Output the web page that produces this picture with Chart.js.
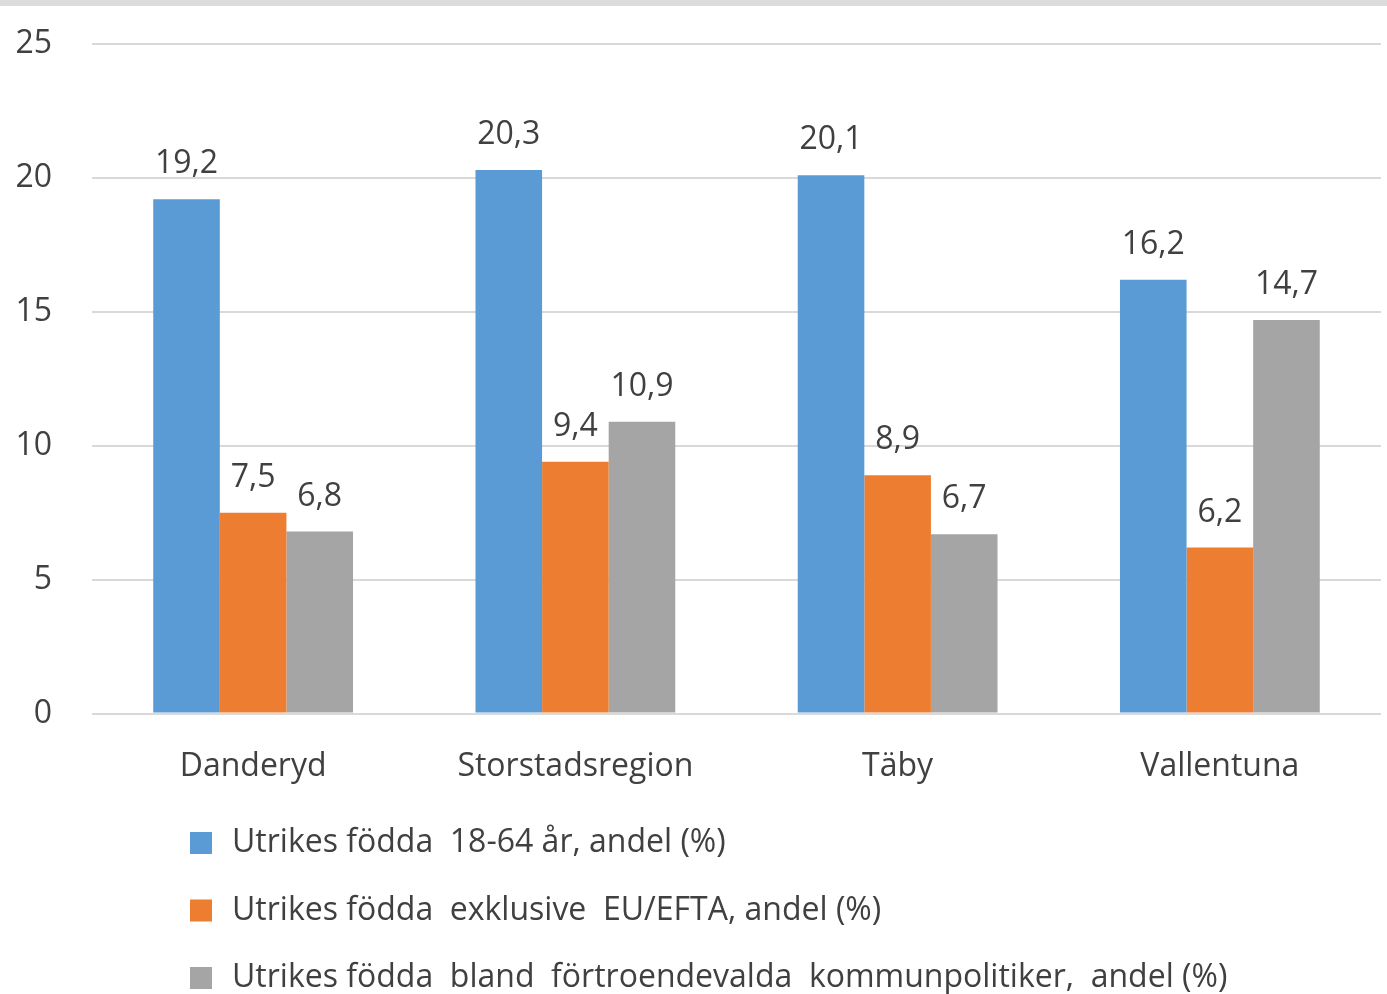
<!DOCTYPE html>
<html lang="sv">
<head>
<meta charset="utf-8">
<title>Utrikes födda</title>
<script src="https://cdn.jsdelivr.net/npm/chart.js@4/dist/chart.umd.min.js"></script>
<style>
  html, body { margin: 0; padding: 0; background: #fff; }
  .topplist { height: 6px; background: #dcdcdc; }
  .ruta { position: relative; width: 1387px; height: 988px; }
</style>
</head>
<body>
<div class="topplist"></div>
<div class="ruta"><canvas id="stapel"></canvas></div>
<script>
const kommuner = ['Danderyd', 'Storstadsregion', 'Täby', 'Vallentuna'];
const utrikesFodda = [19.2, 20.3, 20.1, 16.2];
const exklEuEfta = [7.5, 9.4, 8.9, 6.2];
const fortroendevalda = [6.8, 10.9, 6.7, 14.7];
const yTicks = [0, 5, 10, 15, 20, 25];

const textFarg = '#404040';
const typsnitt = '"Open Sans", sans-serif';

const komma = (v) => v.toFixed(1).replace('.', ',');

// siffror ovanför staplarna
const etiketter = {
    id: 'etiketter',
    afterDatasetsDraw(chart) {
        const ctx = chart.ctx;
        ctx.save();
        ctx.font = '32px ' + typsnitt;
        ctx.fillStyle = textFarg;
        ctx.textAlign = 'center';
        ctx.textBaseline = 'middle';
        chart.data.datasets.forEach((ds, i) => {
            chart.getDatasetMeta(i).data.forEach((bar, j) => {
                ctx.fillText(komma(ds.data[j]), bar.x, bar.y - 35);
            });
        });
        ctx.restore();
    }
};

// legend i en kolumn, vänsterställd
const listLegend = {
    id: 'listLegend',
    afterDraw(chart) {
        const ctx = chart.ctx;
        const startY = chart.height - 151;
        ctx.save();
        ctx.font = '32px ' + typsnitt;
        ctx.textBaseline = 'middle';
        ctx.textAlign = 'left';
        chart.data.datasets.forEach((ds, i) => {
            let y = startY + i * 67.5;
            ctx.fillStyle = ds.backgroundColor;
            ctx.fillRect(190, y - 11, 22, 22);
            ctx.fillStyle = textFarg;
            ctx.fillText(ds.label, 232, y);
        });
        ctx.restore();
    }
};

new Chart(document.getElementById('stapel'), {
    type: 'bar',
    data: {
        labels: kommuner,
        datasets: [{
            label: 'Utrikes födda  18-64 år, andel (%)',
            data: utrikesFodda,
            backgroundColor: '#5b9bd5'
        }, {
            label: 'Utrikes födda  exklusive  EU/EFTA, andel (%)',
            data: exklEuEfta,
            backgroundColor: '#ed7d31'
        }, {
            label: 'Utrikes födda  bland  förtroendevalda  kommunpolitiker,  andel (%)',
            data: fortroendevalda,
            backgroundColor: '#a5a5a5'
        }]
    },
    options: {
        responsive: true,
        maintainAspectRatio: false,
        animation: false,
        layout: {
            padding: { top: 38, right: 6, bottom: 182, left: 0 }
        },
        datasets: {
            bar: { categoryPercentage: 0.62, barPercentage: 1 }
        },
        plugins: {
            legend: { display: false },
            tooltip: { enabled: false }
        },
        scales: {
            x: {
                grid: { display: false },
                border: { display: false },
                ticks: {
                    color: textFarg,
                    font: { family: typsnitt, size: 32 },
                    padding: 26,
                    maxRotation: 0
                }
            },
            y: {
                min: 0,
                max: 25,
                afterFit: (scale) => {
                    scale.width = 92;
                    scale.paddingTop = 0;
                    scale.paddingBottom = 0;
                },
                afterBuildTicks: (scale) => {
                    scale.ticks = yTicks.map(v => ({ value: v }));
                },
                grid: { color: '#d9d9d9', lineWidth: 2, drawTicks: false },
                border: { display: false },
                ticks: {
                    color: textFarg,
                    font: { family: typsnitt, size: 32 },
                    padding: 40
                }
            }
        }
    },
    plugins: [etiketter, listLegend]
});
</script>
</body>
</html>
